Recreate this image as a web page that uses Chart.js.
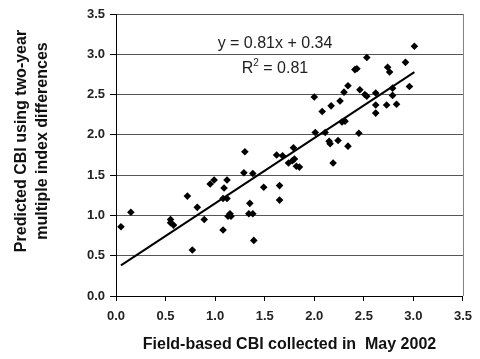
<!DOCTYPE html>
<html>
<head>
<meta charset="utf-8">
<script src="https://cdn.jsdelivr.net/npm/chart.js@4"></script>
<style>
  html, body { margin: 0; padding: 0; background: #fff; }
  #wrap { width: 480px; height: 359px; }
</style>
</head>
<body>
<div id="wrap"><canvas id="cbi"></canvas></div>
<script>
// field-based CBI (x) vs predicted CBI (y)
const fieldCBI = [
  0.05, 0.15, 0.55, 0.55, 0.58, 0.72, 0.77, 0.82, 0.89, 0.95,
  0.99, 1.12, 1.09, 1.08, 1.12, 1.08, 1.13, 1.15, 1.16, 1.30,
  1.29, 1.38, 1.35, 1.34, 1.38, 1.39, 1.49, 1.65, 1.65, 1.62,
  1.68, 1.79, 1.74, 1.78, 1.80, 1.82, 1.85, 2.01, 2.11, 2.15,
  2.16, 2.24, 2.34, 2.45, 2.28, 2.31, 2.19, 2.08, 2.17, 2.26,
  2.00, 2.30, 2.34, 2.46, 2.51, 2.53, 2.62, 2.62, 2.62, 2.73,
  2.41, 2.43, 2.53, 2.74, 2.76, 2.92, 3.01, 2.96, 2.79, 2.79,
  2.83
];
const predictedCBI = [
  0.86, 1.04, 0.95, 0.91, 0.88, 1.24, 0.57, 1.10, 0.95, 1.39,
  1.44, 1.44, 1.34, 1.21, 1.21, 0.82, 0.99, 1.02, 0.99, 1.79,
  1.53, 1.52, 1.15, 1.02, 1.02, 0.69, 1.35, 1.37, 1.19, 1.75,
  1.74, 1.84, 1.65, 1.68, 1.70, 1.61, 1.60, 2.03, 2.03, 1.92,
  1.89, 1.93, 1.86, 2.02, 2.16, 2.17, 1.65, 2.29, 2.36, 2.42,
  2.47, 2.53, 2.61, 2.56, 2.50, 2.48, 2.52, 2.37, 2.27, 2.37,
  2.81, 2.82, 2.96, 2.84, 2.78, 2.90, 3.10, 2.60, 2.58, 2.49,
  2.38
];
const slope = 0.81;
const intercept = 0.34;
const fitRange = [0.05, 3.01];
const yTicks = [0, 0.5, 1, 1.5, 2, 2.5, 3, 3.5];

const FONT = '"Liberation Sans", Arial, sans-serif';

const points = fieldCBI.map((x, i) => ({ x: x, y: predictedCBI[i] }));
const fitLine = fitRange.map(x => ({ x: x, y: slope * x + intercept }));

// titles, equation and the plot frame on the right
const extras = {
  id: 'extras',
  afterDraw(chart) {
    const c = chart.ctx;
    const a = chart.chartArea;
    c.save();
    c.strokeStyle = '#808080';
    c.lineWidth = 1;
    c.beginPath();
    c.moveTo(a.right + 0.5, a.top);
    c.lineTo(a.right + 0.5, a.bottom);
    c.stroke();

    c.fillStyle = '#111';
    c.textBaseline = 'middle';
    c.textAlign = 'center';
    c.font = 'bold 16px ' + FONT;
    c.fillText('Field-based CBI collected in  May 2002', (a.left + a.right) / 2, 345);

    c.save();
    c.translate(22, 141);
    c.rotate(-Math.PI / 2);
    c.fillText('Predicted CBI using two-year', 0, 0);
    c.fillText('multiple index differences', 0, 21);
    c.restore();

    c.font = '16px ' + FONT;
    c.fillStyle = '#222';
    c.fillText('y = ' + slope.toFixed(2) + 'x + ' + intercept.toFixed(2), 275, 44);

    // R² with a raised 2
    const rest = ' = 0.81';
    c.textAlign = 'left';
    const wR = c.measureText('R').width;
    const wRest = c.measureText(rest).width;
    c.font = '10px ' + FONT;
    const w2 = c.measureText('2').width;
    let x0 = 275 - (wR + w2 + wRest) / 2;
    c.font = '16px ' + FONT;
    c.fillText('R', x0, 69);
    c.font = '10px ' + FONT;
    c.fillText('2', x0 + wR, 63);
    c.font = '16px ' + FONT;
    c.fillText(rest, x0 + wR + w2, 69);
    c.restore();
  }
};

new Chart(document.getElementById('cbi'), {
  type: 'scatter',
  data: {
    datasets: [{
      data: points,
      pointStyle: 'rectRot',
      pointRadius: 3.8,
      pointHoverRadius: 3.8,
      backgroundColor: '#000',
      borderColor: '#000',
      borderWidth: 0
    }, {
      type: 'line',
      data: fitLine,
      borderColor: '#000',
      borderWidth: 2,
      pointRadius: 0,
      fill: false
    }]
  },
  plugins: [extras],
  options: {
    responsive: true,
    maintainAspectRatio: false,
    animation: false,
    layout: { padding: { top: 14, right: 11, left: 0, bottom: 0 } },
    plugins: {
      legend: { display: false },
      tooltip: { enabled: false }
    },
    scales: {
      x: {
        type: 'linear',
        min: 0,
        max: 3.5,
        afterFit: s => { s.height = 63; },
        ticks: {
          stepSize: 0.5,
          padding: 8,
          color: '#222',
          font: { family: FONT, size: 13, weight: 'bold' },
          callback: v => v.toFixed(1)
        },
        grid: {
          drawOnChartArea: false,
          drawTicks: true,
          tickLength: 5,
          tickColor: '#000'
        },
        border: { color: '#000', width: 1 }
      },
      y: {
        type: 'linear',
        min: 0,
        max: 3.5,
        afterFit: s => { s.width = 116; },
        afterBuildTicks: s => { s.ticks = yTicks.map(v => ({ value: v })); },
        ticks: {
          padding: 5,
          color: '#222',
          font: { family: FONT, size: 13, weight: 'bold' },
          callback: v => v.toFixed(1)
        },
        grid: {
          color: '#555',
          lineWidth: 1,
          tickLength: 6,
          tickColor: '#000'
        },
        border: { color: '#000', width: 1 }
      }
    }
  }
});
</script>
</body>
</html>
